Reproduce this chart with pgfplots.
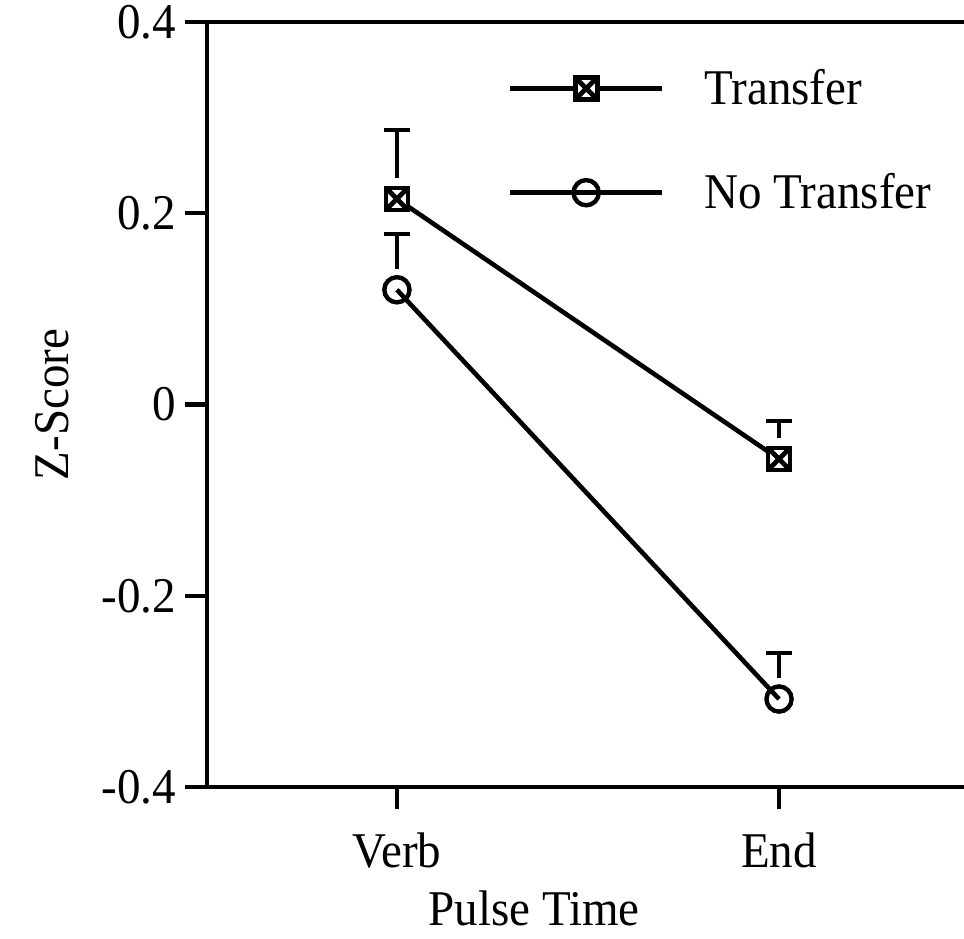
\documentclass[border=0pt]{standalone}
\usepackage{fontspec}
\setmainfont{Liberation Serif}[FakeStretch=0.94]
\usepackage{pgfplots}
\pgfplotsset{compat=1.18}

% square with a cross inside
\pgfdeclareplotmark{boxx}{%
  \pgfpathrectangle{\pgfqpoint{-\pgfplotmarksize}{-\pgfplotmarksize}}{\pgfqpoint{2\pgfplotmarksize}{2\pgfplotmarksize}}%
  \pgfusepathqfillstroke
  \pgfpathmoveto{\pgfqpoint{-\pgfplotmarksize}{-\pgfplotmarksize}}%
  \pgfpathlineto{\pgfqpoint{\pgfplotmarksize}{\pgfplotmarksize}}%
  \pgfpathmoveto{\pgfqpoint{-\pgfplotmarksize}{\pgfplotmarksize}}%
  \pgfpathlineto{\pgfqpoint{\pgfplotmarksize}{-\pgfplotmarksize}}%
  \pgfusepathqstroke}

\begin{document}
\begin{tikzpicture}
\begin{axis}[
  at={(0,0)}, anchor=south west,
  width=378.5pt, height=382.5pt, scale only axis,
  xmin=0.503, xmax=2.484, ymin=-0.4, ymax=0.4,
  axis x line=box, axis y line=left,
  axis line style={-, line width=2.2pt},
  xtick={1,2}, xticklabels={Verb,End}, xtick pos=bottom,
  ytick={-0.4,-0.2,0,0.2,0.4}, yticklabels={-0.4,-0.2,0,0.2,0.4},
  tick align=outside, major tick length=11pt,
  tick style={line width=2.2pt, black},
  ticklabel style={font=\fontsize{25}{30}\selectfont},
  xticklabel style={yshift=-8.5pt},
  yticklabel style={xshift=-1pt},
  xlabel={Pulse Time}, ylabel={Z-Score},
  label style={font=\fontsize{25}{30}\selectfont},
  xlabel style={at={(axis description cs:0.432,-0.181)}, anchor=base,
    text depth=0pt, inner sep=0pt},
  ylabel style={at={(axis description cs:-0.205,0.5)}, anchor=center},
  clip=false,
  legend style={draw=none, fill=none, at={(axis description cs:0.389,0.845)},
    anchor=west, row sep=29pt, cells={anchor=west},
    font=\fontsize{25}{30}\selectfont},
  legend image code/.code={\draw[mark repeat=2,mark phase=2,#1] plot coordinates {(0pt,0pt) (38pt,0pt) (76pt,0pt)};},
]
\addplot[black, line width=2.3pt, mark=boxx, mark size=5.5pt,
  mark options={fill=white, line width=2.4pt},
  error bars/.cd, y dir=plus, y explicit,
  error bar style={line width=2.2pt, shorten <=10.5pt},
  error mark options={line width=2.2pt, mark size=6.5pt, rotate=90}]
coordinates {
  (1,0.215) +- (0,0.072)
  (2,-0.057) +- (0,0.040)
};
\addlegendentry{\hspace{18pt}Transfer}
\addplot[black, line width=2.3pt, mark=o, mark size=6.3pt,
  mark options={fill=white, line width=2.2pt},
  error bars/.cd, y dir=plus, y explicit,
  error bar style={line width=2.2pt, shorten <=10.5pt},
  error mark options={line width=2.2pt, mark size=6.5pt, rotate=90}]
coordinates {
  (1,0.120) +- (0,0.058)
  (2,-0.308) +- (0,0.048)
};
\addlegendentry{\hspace{18pt}No Transfer}
\end{axis}
\pgfresetboundingbox
\path[use as bounding box] (-103.5pt,-75.5pt) rectangle (378.5pt,393.5pt);
\end{tikzpicture}
\end{document}
